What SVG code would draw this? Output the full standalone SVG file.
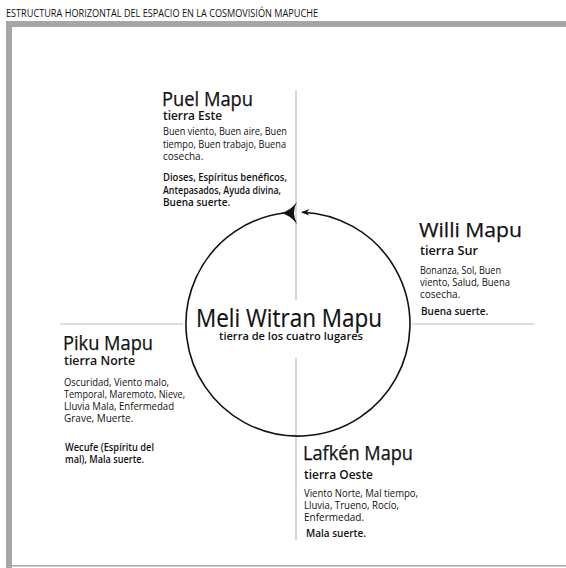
<svg xmlns="http://www.w3.org/2000/svg" width="566" height="568" viewBox="0 0 566 568">
<style>
text{font-family:"Open Sans","Noto Sans","Liberation Sans",sans-serif;fill:#111}
.title{font-size:10.5px}
.h{font-size:19.5px;font-weight:500;stroke:#111;stroke-width:0.25}
.sub{font-size:13px;font-weight:600}
.b{font-size:10px}
.bb{font-size:10px;font-weight:600}
.guide{stroke:#bdbdbd;stroke-width:1.2;fill:none}
.frame{fill:#a6a6a6}
.ring{stroke:#111;stroke-width:1.6;fill:none}
</style>
<defs>
<marker id="small" viewBox="0 0 10 10" refX="9" refY="5" markerWidth="8" markerHeight="8" orient="auto" markerUnits="userSpaceOnUse">
<path d="M10,5 L0,1 L3,5 L0,9 Z" fill="#111"/>
</marker>
</defs>
<rect width="566" height="568" fill="#fff"/>
<text class="title" x="6" y="17" textLength="312" lengthAdjust="spacingAndGlyphs">ESTRUCTURA HORIZONTAL DEL ESPACIO EN LA COSMOVISIÓN MAPUCHE</text>
<g id="frame">
<rect class="frame" x="6" y="21" width="560" height="6"/>
<rect class="frame" x="6" y="21" width="6" height="547"/>
<rect class="frame" x="6" y="565" width="560" height="1.5"/>
</g>
<g id="connectors">
<line class="guide" x1="296" y1="90" x2="296" y2="300"/>
<line class="guide" x1="296" y1="358" x2="296" y2="540"/>
<line class="guide" x1="60" y1="324" x2="183" y2="324"/>
<line class="guide" x1="412" y1="324" x2="534" y2="324"/>
<path class="ring" d="M284,213 A112,112 0 1,0 302,212.2" marker-end="url(#small)"/>
<path d="M281,213 Q290,211 297,202 Q291,212 297,224 Q290,215 281,213 Z" fill="#111"/>
</g>
<g id="center">
<text x="196" y="327" font-size="25.5" font-weight="500" stroke="#111" stroke-width="0.2" textLength="186" lengthAdjust="spacingAndGlyphs">Meli Witran Mapu</text>
<text x="219" y="340" font-size="11.5" font-weight="600" textLength="144" lengthAdjust="spacingAndGlyphs">tierra de los cuatro lugares</text>
</g>
<g id="puel">
<text class="h" x="162" y="106" textLength="91" lengthAdjust="spacingAndGlyphs">Puel Mapu</text>
<text class="sub" x="163" y="120" textLength="59" lengthAdjust="spacingAndGlyphs">tierra Este</text>
<text class="b" x="163" y="135" textLength="124" lengthAdjust="spacingAndGlyphs">Buen viento, Buen aire, Buen</text>
<text class="b" x="163" y="147.5" textLength="123" lengthAdjust="spacingAndGlyphs">tiempo, Buen trabajo, Buena</text>
<text class="b" x="163" y="160">cosecha.</text>
<text class="bb" x="163" y="181" textLength="124" lengthAdjust="spacingAndGlyphs">Dioses, Espíritus benéficos,</text>
<text class="bb" x="163" y="193.5" textLength="118" lengthAdjust="spacingAndGlyphs">Antepasados, Ayuda divina,</text>
<text class="bb" x="163" y="206">Buena suerte.</text>
</g>
<g id="willi">
<text class="h" x="419" y="237" textLength="103" lengthAdjust="spacingAndGlyphs">Willi Mapu</text>
<text class="sub" x="420" y="255" textLength="58" lengthAdjust="spacingAndGlyphs">tierra Sur</text>
<text class="b" x="420" y="274" textLength="81" lengthAdjust="spacingAndGlyphs">Bonanza, Sol, Buen</text>
<text class="b" x="420" y="286" textLength="90" lengthAdjust="spacingAndGlyphs">viento, Salud, Buena</text>
<text class="b" x="420" y="298">cosecha.</text>
<text class="bb" x="421" y="315">Buena suerte.</text>
</g>
<g id="piku">
<text class="h" x="63" y="350" textLength="90" lengthAdjust="spacingAndGlyphs">Piku Mapu</text>
<text class="sub" x="64" y="365" textLength="71" lengthAdjust="spacingAndGlyphs">tierra Norte</text>
<text class="b" x="64" y="386" textLength="105" lengthAdjust="spacingAndGlyphs">Oscuridad, Viento malo,</text>
<text class="b" x="64" y="398" textLength="121" lengthAdjust="spacingAndGlyphs">Temporal, Maremoto, Nieve,</text>
<text class="b" x="64" y="410" textLength="110" lengthAdjust="spacingAndGlyphs">Lluvia Mala, Enfermedad</text>
<text class="b" x="64" y="422">Grave, Muerte.</text>
<text class="bb" x="65" y="451" textLength="89" lengthAdjust="spacingAndGlyphs">Wecufe (Espíritu del</text>
<text class="bb" x="65" y="463" textLength="79" lengthAdjust="spacingAndGlyphs">mal), Mala suerte.</text>
</g>
<g id="lafken">
<text class="h" x="303" y="460" textLength="110" lengthAdjust="spacingAndGlyphs">Lafkén Mapu</text>
<text class="sub" x="304" y="479" textLength="69" lengthAdjust="spacingAndGlyphs">tierra Oeste</text>
<text class="b" x="304" y="497" textLength="114" lengthAdjust="spacingAndGlyphs">Viento Norte, Mal tiempo,</text>
<text class="b" x="304" y="509" textLength="95" lengthAdjust="spacingAndGlyphs">Lluvia, Trueno, Rocío,</text>
<text class="b" x="304" y="521">Enfermedad.</text>
<text class="bb" x="306" y="537">Mala suerte.</text>
</g>
</svg>
